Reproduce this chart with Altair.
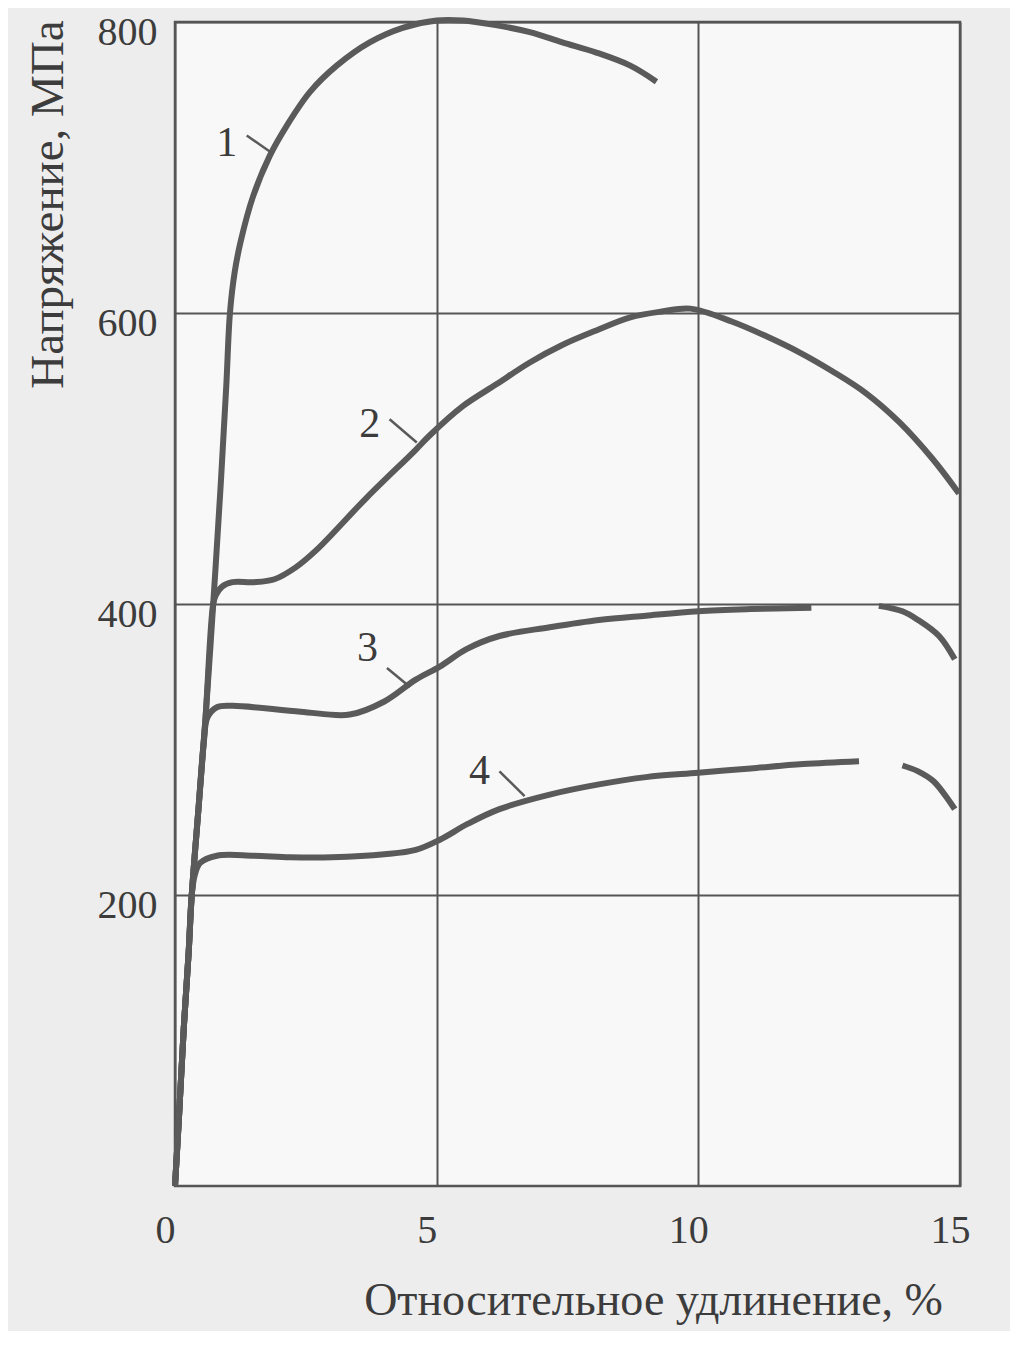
import altair as alt
import pandas as pd

# ---- data (strain %, stress MPa) ----
c1_x = [0, 0.08, 0.17, 0.26, 0.32, 0.45, 0.58, 0.73, 0.87, 0.98, 1.05, 1.14, 1.26, 1.49, 1.81, 2.14, 2.58, 3.09, 3.72, 4.35, 5.0, 5.5, 6.1, 6.78, 7.4, 8.05, 8.7, 9.2]
c1_y = [0, 50, 110, 160, 200, 260, 320, 400, 480, 550, 600, 628, 650, 680, 708, 729, 752, 770, 786, 796, 801, 801, 798, 793, 786, 779, 770, 759]

c2_x = [0, 0.08, 0.17, 0.26, 0.32, 0.45, 0.58, 0.73, 0.78, 0.9, 1.1, 1.5, 1.9, 2.3, 2.7, 3.66, 4.6, 4.87, 5.5, 6.14, 6.78, 7.4, 8.05, 8.7, 9.3, 9.85, 10.65, 11.3, 11.93, 12.56, 13.2, 13.84, 14.47, 14.98]
c2_y = [0, 50, 110, 160, 200, 260, 320, 400, 406, 412, 415, 415, 417, 425, 437, 473, 506, 516, 536, 551, 566, 578, 588, 597, 601, 603, 594, 584, 573, 560, 545, 525, 500, 476]

c3a_x = [0, 0.08, 0.17, 0.26, 0.32, 0.45, 0.55, 0.62, 0.8, 1.1, 2.4, 3.34, 4.0, 4.6, 5.06, 5.57, 6.2, 7.16, 8.1, 9.0, 10.0, 11.0, 12.16]
c3a_y = [0, 50, 110, 160, 200, 260, 305, 322, 329, 330, 326, 324, 333, 348, 357, 369, 378, 384, 389, 392, 395, 396.5, 397.5]
c3b_x = [13.45, 13.9, 14.2, 14.6, 14.9]
c3b_y = [398.7, 395, 389, 378, 362]

c4a_x = [0, 0.08, 0.17, 0.26, 0.32, 0.38, 0.48, 0.8, 1.5, 2.2, 3.0, 4.0, 4.6, 5.06, 5.6, 6.2, 7.16, 8.1, 9.0, 10.0, 11.0, 12.0, 13.07]
c4a_y = [0, 50, 110, 160, 200, 214, 222, 227, 227, 226, 226, 228, 231, 238, 249, 259, 269, 276, 281, 284, 287, 290, 292]
c4b_x = [13.9, 14.2, 14.5, 14.9]
c4b_y = [289, 285, 278, 259]

# curve numbers and their leader strokes
lab_text = ["1", "2", "3", "4"]
lab_x = [0.99, 3.72, 3.68, 5.82]
lab_y = [717, 524, 370, 285]
ptr_x1 = [1.37, 4.10, 4.05, 6.20]
ptr_y1 = [722, 527, 356, 285]
ptr_x2 = [1.81, 4.62, 4.49, 6.68]
ptr_y2 = [711, 511, 343, 268]

x_ticks = [0, 5, 10, 15]
y_ticks = [200, 400, 600, 800]

x_title = "Относительное удлинение, %"
y_title = "Напряжение, МПа"

# ---- build tables ----
rows = []
for seg, xs_, ys_ in [("1", c1_x, c1_y), ("2", c2_x, c2_y), ("3a", c3a_x, c3a_y),
                      ("3b", c3b_x, c3b_y), ("4a", c4a_x, c4a_y), ("4b", c4b_x, c4b_y)]:
    for i, (xv, yv) in enumerate(zip(xs_, ys_)):
        rows.append({"seg": seg, "i": i, "x": xv, "y": yv})
curves = pd.DataFrame(rows)
labels = pd.DataFrame({"t": lab_text, "x": lab_x, "y": lab_y})
ptrs = pd.DataFrame({"x": ptr_x1, "y": ptr_y1, "x2": ptr_x2, "y2": ptr_y2})

FONT = "Liberation Serif"
INK = "#5a5a5a"
TXT = "#3c3c3c"

xs = alt.Scale(domain=[0, 15], nice=False, zero=True)
ys = alt.Scale(domain=[0, 800], nice=False, zero=True)

xaxis = alt.Axis(values=x_ticks, grid=True, gridColor="#555555", gridWidth=2, ticks=False, domain=False,
                 labelFont=FONT, labelFontSize=40, labelColor=TXT, labelPadding=24, labelOffset=-10,
                 labelFlush=False, title=x_title, titleFont=FONT, titleFontSize=46, titleFontWeight="normal",
                 titleColor=TXT, titleX=478, titleY=114, titleAlign="center", titleBaseline="middle")
yaxis = alt.Axis(values=y_ticks, grid=True, gridColor="#555555", gridWidth=2, ticks=False, domain=False,
                 labelFont=FONT, labelFontSize=40, labelColor=TXT, labelPadding=18, labelOffset=10,
                 labelFlush=False, title=y_title, titleFont=FONT, titleFontSize=47, titleFontWeight="normal",
                 titleColor=TXT, titleX=-127, titleY=182, titleAngle=-90, titleAlign="center",
                 titleBaseline="middle")

lines = alt.Chart(curves).mark_line(color=INK, strokeWidth=6, interpolate="catmull-rom").encode(
    x=alt.X("x:Q", scale=xs, axis=xaxis),
    y=alt.Y("y:Q", scale=ys, axis=yaxis),
    detail="seg:N",
    order="i:Q",
)

pointer = alt.Chart(ptrs).mark_rule(color=INK, strokeWidth=2.5).encode(
    x=alt.X("x:Q", scale=xs), y=alt.Y("y:Q", scale=ys), x2="x2:Q", y2="y2:Q"
)

text = alt.Chart(labels).mark_text(font=FONT, fontSize=42, color=TXT, align="center", baseline="middle").encode(
    x=alt.X("x:Q", scale=xs), y=alt.Y("y:Q", scale=ys), text="t:N"
)

chart = (lines + pointer + text).properties(
    width=785, height=1164,
    autosize=alt.AutoSizeParams(type="none"),
    padding={"left": 167, "top": 14, "right": 50, "bottom": 145},
    background="#ededed",
).configure_view(stroke="#555555", strokeWidth=2.5, fill="#f8f8f8")

chart.save("out.html", embed_options={"renderer": "svg", "actions": False})
